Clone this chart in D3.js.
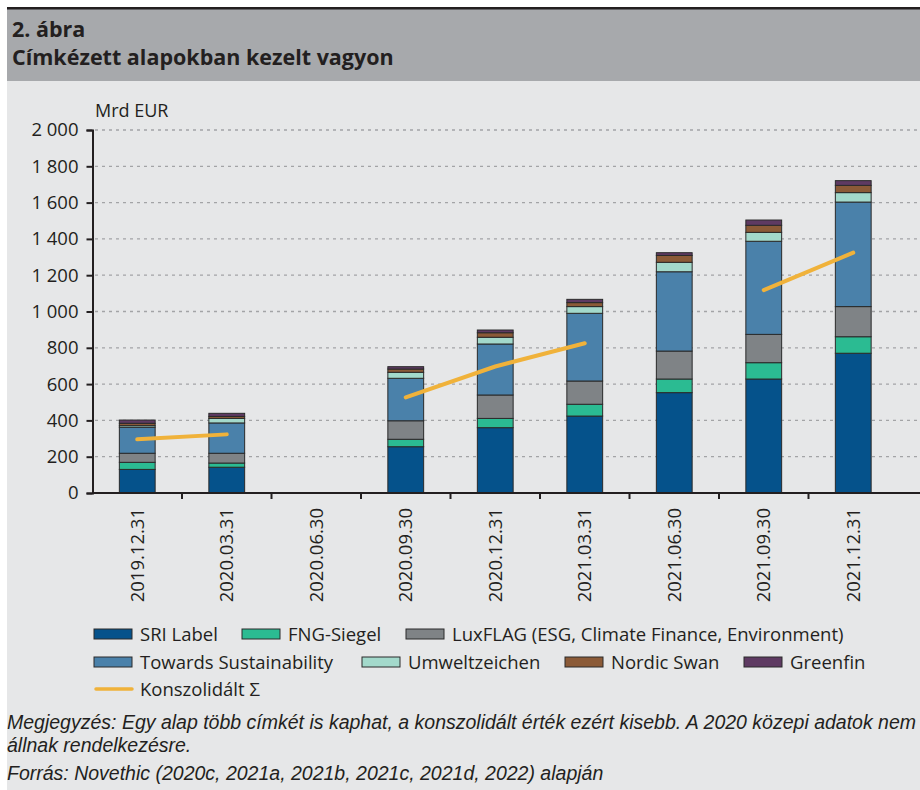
<!DOCTYPE html>
<html>
<head>
<meta charset="utf-8">
<script src="https://cdn.jsdelivr.net/npm/d3@7"></script>
<style>
  body { margin: 0; background: #fff; }
  svg { display: block; font-family: "Open Sans", sans-serif; }
</style>
</head>
<body>
<div id="chart"></div>
<script>
// Data (Mrd EUR)
const dates = ['2019.12.31', '2020.03.31', '2020.06.30', '2020.09.30', '2020.12.31',
               '2021.03.31', '2021.06.30', '2021.09.30', '2021.12.31'];
const sriLabel    = [130, 142, 0, 255, 360, 424, 553, 628, 770];
const fngSiegel   = [39, 23, 0, 41, 51, 65, 75, 90, 91];
const luxFlag     = [50, 54, 0, 102, 129, 128, 154, 156, 166];
const towardsSust = [143, 167, 0, 234, 281, 373, 437, 513, 576];
const umwelt      = [9, 25, 0, 33, 37, 37, 52, 49, 52];
const nordicSwan  = [13, 11, 0, 18, 25, 22, 38, 39, 40];
const greenfin    = [18, 17, 0, 13, 15, 18, 15, 29, 26];
const consolidated = [296, 323, null, 527, 697, 825, null, 1118, 1324];
const yTicks = [0, 200, 400, 600, 800, 1000, 1200, 1400, 1600, 1800, 2000];

const seriesNames = ['SRI Label', 'FNG-Siegel', 'LuxFLAG (ESG, Climate Finance, Environment)',
                     'Towards Sustainability', 'Umweltzeichen', 'Nordic Swan', 'Greenfin'];
const seriesValues = [sriLabel, fngSiegel, luxFlag, towardsSust, umwelt, nordicSwan, greenfin];
const colors = ['#05528b', '#2bbb92', '#7f8386', '#4a81aa', '#a3d9cb', '#8b5a37', '#5e3a62'];
const lineColor = '#f0b23a';

const W = 920, H = 790;
const ink = '#231f20';
const svg = d3.select('#chart').append('svg')
    .attr('width', W)
    .attr('height', H);

// Frame: top rule, grey header, light panel
svg.append('rect').attr('x', 7).attr('y', 9).attr('width', W - 7).attr('height', 72).attr('fill', '#a7a9ac');
svg.append('rect').attr('x', 7).attr('y', 81).attr('width', W - 7).attr('height', H - 81).attr('fill', '#e6e7e8');
svg.append('rect').attr('x', 7).attr('y', 7).attr('width', W - 7).attr('height', 2.5).attr('fill', ink);

svg.append('text').attr('x', 12).attr('y', 37)
    .attr('font-size', 21.5).attr('font-weight', 700).attr('fill', ink)
    .text('2. ábra');
svg.append('text').attr('x', 12).attr('y', 65)
    .attr('font-size', 21.5).attr('font-weight', 700).attr('fill', ink)
    .text('Címkézett alapokban kezelt vagyon');

// Scales
const x = d3.scaleBand().domain(dates).range([92.5, 898]).paddingInner(0.6).paddingOuter(0.3);
const xTickScale = d3.scaleBand().domain(dates).range([92.5, 898]);
const y = d3.scaleLinear().domain([0, 2000]).range([493, 130]);

// Gridlines
svg.append('g')
    .selectAll('line')
    .data(yTicks.filter(d => d > 0))
    .join('line')
    .attr('x1', 95).attr('x2', W)
    .attr('y1', d => y(d)).attr('y2', d => y(d))
    .attr('stroke', '#a3a4a6')
    .attr('stroke-width', 1.3)
    .attr('stroke-dasharray', '3,4');

// Stacked bars
const rows = dates.map((d, i) => {
    const r = {date: d};
    seriesNames.forEach((s, j) => r[s] = seriesValues[j][i]);
    return r;
});
const stacked = d3.stack().keys(seriesNames)(rows);

svg.append('g')
    .selectAll('g')
    .data(stacked)
    .join('g')
    .attr('fill', (d, i) => colors[i])
    .selectAll('rect')
    .data(d => d.filter(p => p[1] - p[0] > 0))
    .join('rect')
    .attr('x', d => x(d.data.date))
    .attr('width', x.bandwidth())
    .attr('y', d => y(d[1]))
    .attr('height', d => y(d[0]) - y(d[1]))
    .attr('stroke', '#2a2a2a')
    .attr('stroke-width', 1);

// Consolidated line
const line = d3.line()
    .defined(d => d != null)
    .x((d, i) => x(dates[i]) + x.bandwidth() / 2)
    .y(d => y(d));
svg.append('path')
    .datum(consolidated)
    .attr('d', line)
    .attr('fill', 'none')
    .attr('stroke', lineColor)
    .attr('stroke-width', 4)
    .attr('stroke-linecap', 'round');

// Y axis
const yAxis = svg.append('g')
    .attr('transform', 'translate(92.5,0)')
    .call(d3.axisLeft(y).tickValues(yTicks).tickSize(6).tickPadding(8)
        .tickFormat(d => d3.format(',')(d).replace(',', ' ')));
yAxis.select('.domain').attr('stroke', ink).attr('stroke-width', 2);
yAxis.selectAll('.tick line').attr('stroke', ink).attr('stroke-width', 2);
yAxis.selectAll('text').attr('font-size', 18.5).attr('fill', ink)
    .attr('font-family', '"Open Sans", sans-serif');

// X axis
const xAxis = svg.append('g').attr('transform', `translate(0,${y(0)})`);
xAxis.append('line')
    .attr('x1', 92.5).attr('x2', W)
    .attr('stroke', ink).attr('stroke-width', 2);
xAxis.selectAll('.xtick')
    .data(dates.slice(1))
    .join('line')
    .attr('class', 'xtick')
    .attr('x1', d => xTickScale(d)).attr('x2', d => xTickScale(d))
    .attr('y1', 0).attr('y2', 6)
    .attr('stroke', ink).attr('stroke-width', 2);
xAxis.selectAll('.xlabel')
    .data(dates)
    .join('text')
    .attr('class', 'xlabel')
    .attr('transform', d => `translate(${x(d) + x.bandwidth() / 2 + 6.5},15) rotate(-90)`)
    .attr('text-anchor', 'end')
    .attr('font-size', 18.5)
    .attr('fill', ink)
    .text(d => d);

svg.append('text').attr('x', 95).attr('y', 117)
    .attr('font-size', 18).attr('fill', ink)
    .text('Mrd EUR');

// Legend
const legendItems = [
    {name: seriesNames[0], color: colors[0], x: 94, row: 0},
    {name: seriesNames[1], color: colors[1], x: 242, row: 0},
    {name: seriesNames[2], color: colors[2], x: 406, row: 0},
    {name: seriesNames[3], color: colors[3], x: 94, row: 1},
    {name: seriesNames[4], color: colors[4], x: 362, row: 1},
    {name: seriesNames[5], color: colors[5], x: 565, row: 1},
    {name: seriesNames[6], color: colors[6], x: 744, row: 1}
];
const rowY = [634, 662, 689];
const legend = svg.append('g');
const li = legend.selectAll('g')
    .data(legendItems)
    .join('g')
    .attr('transform', d => `translate(${d.x},${rowY[d.row]})`);
li.append('rect')
    .attr('x', 0).attr('y', -5).attr('width', 38).attr('height', 10)
    .attr('fill', d => d.color)
    .attr('stroke', '#2a2a2a').attr('stroke-width', 1);
li.append('text')
    .attr('x', 46).attr('y', 6.5)
    .attr('font-size', 18.5).attr('fill', ink)
    .text(d => d.name);

const lineItem = legend.append('g').attr('transform', `translate(94,${rowY[2]})`);
lineItem.append('line').attr('x1', 2).attr('x2', 38)
    .attr('stroke', lineColor).attr('stroke-width', 3.5).attr('stroke-linecap', 'round');
lineItem.append('text').attr('x', 46).attr('y', 6.5)
    .attr('font-size', 18.5).attr('fill', ink)
    .text('Konszolidált Σ');

// Notes
const notes = [
    {t: 'Megjegyzés: Egy alap több címkét is kaphat, a konszolidált érték ezért kisebb. A 2020 közepi adatok nem', y: 729},
    {t: 'állnak rendelkezésre.', y: 752},
    {t: 'Forrás: Novethic (2020c, 2021a, 2021b, 2021c, 2021d, 2022) alapján', y: 780}
];
svg.append('g')
    .selectAll('text')
    .data(notes)
    .join('text')
    .attr('x', 7)
    .attr('y', d => d.y)
    .attr('font-family', '"Liberation Sans", Arial, sans-serif')
    .attr('font-size', 19.5)
    .attr('font-style', 'italic')
    .attr('fill', ink)
    .text(d => d.t);
</script>
</body>
</html>
